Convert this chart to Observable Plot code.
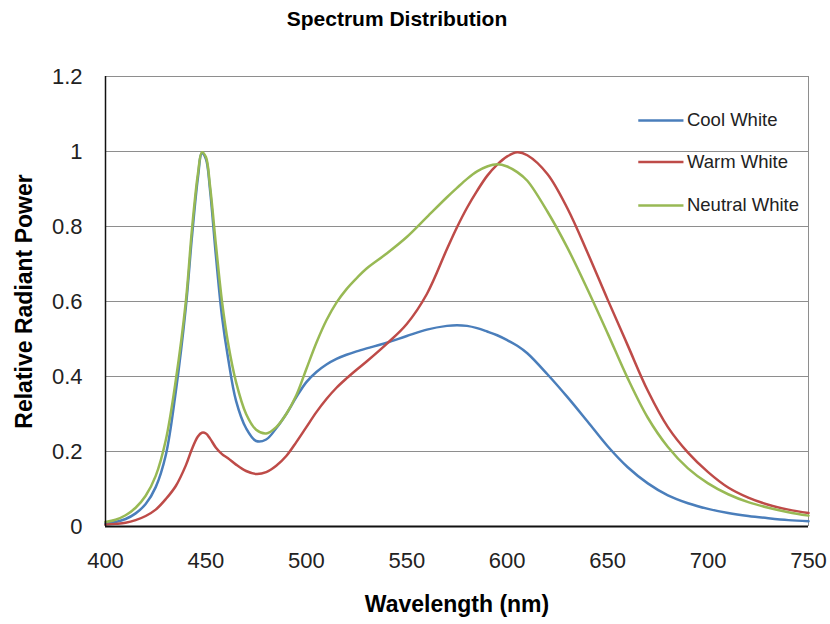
<!DOCTYPE html>
<html>
<head>
<meta charset="utf-8">
<script src="https://cdn.jsdelivr.net/npm/d3@7"></script>
<script src="https://cdn.jsdelivr.net/npm/@observablehq/plot@0.6"></script>
<style>
  html, body { margin: 0; padding: 0; background: #fff; }
  #chart { width: 830px; height: 624px; }
</style>
</head>
<body>
<div id="chart"></div>
<script>
const title = "Spectrum Distribution";
const xLabel = "Wavelength (nm)";
const yLabel = "Relative Radiant Power";
const xTicks = [400, 450, 500, 550, 600, 650, 700, 750];
const yTicks = [0, 0.2, 0.4, 0.6, 0.8, 1, 1.2];
const seriesNames = ["Cool White", "Warm White", "Neutral White"];
const seriesColors = ["#4a7ebb", "#be4b48", "#98b954"];

const wavelength = [400, 405, 410, 415, 420, 425, 430, 435, 440, 443, 446, 448, 450, 452, 455, 458, 461, 465, 470, 475, 480, 485, 490, 495, 500, 505, 510, 515, 520, 525, 530, 540, 550, 560, 570, 575, 580, 585, 590, 595, 600, 605, 610, 620, 630, 640, 650, 660, 670, 680, 690, 700, 710, 720, 730, 740, 750];

const coolWhite = [0.008, 0.012, 0.02, 0.035, 0.06, 0.105, 0.19, 0.36, 0.585, 0.77, 0.93, 0.995, 0.98, 0.9, 0.72, 0.56, 0.45, 0.335, 0.262, 0.228, 0.232, 0.262, 0.3, 0.345, 0.385, 0.412, 0.432, 0.447, 0.458, 0.467, 0.475, 0.49, 0.508, 0.525, 0.535, 0.537, 0.535, 0.529, 0.52, 0.51, 0.497, 0.482, 0.462, 0.406, 0.345, 0.28, 0.214, 0.158, 0.115, 0.083, 0.062, 0.047, 0.036, 0.028, 0.022, 0.017, 0.014];

const warmWhite = [0.005, 0.007, 0.01, 0.017, 0.028, 0.045, 0.073, 0.108, 0.163, 0.206, 0.24, 0.25, 0.248, 0.235, 0.21, 0.193, 0.182, 0.165, 0.148, 0.14, 0.145, 0.162, 0.188, 0.225, 0.265, 0.305, 0.34, 0.37, 0.395, 0.418, 0.44, 0.487, 0.54, 0.62, 0.74, 0.798, 0.85, 0.895, 0.935, 0.965, 0.987, 0.998, 0.99, 0.94, 0.848, 0.73, 0.605, 0.483, 0.362, 0.265, 0.197, 0.145, 0.104, 0.077, 0.058, 0.045, 0.036];

const neutralWhite = [0.012, 0.018, 0.03, 0.05, 0.082, 0.135, 0.23, 0.39, 0.6, 0.79, 0.94, 0.998, 0.985, 0.91, 0.75, 0.6, 0.49, 0.385, 0.3, 0.258, 0.248, 0.265, 0.3, 0.35, 0.42, 0.49, 0.55, 0.597, 0.633, 0.662, 0.688, 0.728, 0.772, 0.825, 0.878, 0.903, 0.927, 0.947, 0.96, 0.966, 0.96, 0.945, 0.922, 0.84, 0.743, 0.632, 0.515, 0.395, 0.29, 0.212, 0.155, 0.115, 0.086, 0.065, 0.05, 0.038, 0.029];

const seriesValues = [coolWhite, warmWhite, neutralWhite];
const rows = seriesNames.flatMap((name, i) =>
  wavelength.map((w, j) => ({series: name, wavelength: w, value: seriesValues[i][j]}))
);

// legend layout (in chart units)
const legendRows = seriesNames.map((name, i) => ({series: name, y: [1.083, 0.972, 0.856][i]}));
const legendX1 = 665.5, legendX2 = 688;

const font = "'Liberation Sans', Arial, Helvetica, sans-serif";

const chart = Plot.plot({
  width: 830,
  height: 624,
  marginLeft: 105,
  marginRight: 22,
  marginTop: 76,
  marginBottom: 98,
  style: {fontFamily: font, background: "#fff", color: "#222", overflow: "visible"},
  x: {domain: [400, 750]},
  y: {domain: [0, 1.2]},
  color: {domain: seriesNames, range: seriesColors},
  marks: [
    Plot.gridY(yTicks.filter(d => d > 0), {stroke: "#8e8e8e", strokeOpacity: 1, strokeWidth: 1}),
    Plot.ruleX([750], {y1: 0, y2: 1.2, stroke: "#8e8e8e", strokeWidth: 1}),
    Plot.lineY(rows, {x: "wavelength", y: "value", z: "series", stroke: "series", strokeWidth: 2.5, curve: "catmull-rom"}),
    Plot.ruleY([0], {stroke: "#111", strokeWidth: 2}),
    Plot.ruleX([400], {y1: 0, y2: 1.2, stroke: "#111", strokeWidth: 1.5}),
    Plot.axisY(yTicks, {tickSize: 0, tickPadding: 23, fontSize: 22, tickFormat: d => String(d), label: null, fill: "#222"}),
    Plot.axisX(xTicks, {tickSize: 0, tickPadding: 26, fontSize: 22, tickFormat: d => String(d), label: null, fill: "#222"}),
    Plot.ruleY(legendRows, {y: "y", x1: legendX1, x2: legendX2, stroke: "series", strokeWidth: 2.5}),
    Plot.text(legendRows, {y: "y", x: legendX2, text: "series", dx: 3, textAnchor: "start", fontSize: 18.5, fill: "#222"}),
    Plot.text([title], {frameAnchor: "top", textAnchor: "middle", lineAnchor: "middle", dx: -60, dy: -57, fontSize: 21, fontWeight: "bold", fill: "#000"}),
    Plot.text([xLabel], {frameAnchor: "bottom", textAnchor: "middle", lineAnchor: "middle", dy: 78, fontSize: 23, fontWeight: "bold", fill: "#000"}),
    Plot.text([yLabel], {frameAnchor: "left", textAnchor: "middle", lineAnchor: "middle", rotate: -90, dx: -81, fontSize: 23, fontWeight: "bold", fill: "#000"})
  ]
});
document.getElementById("chart").append(chart);
</script>
</body>
</html>
